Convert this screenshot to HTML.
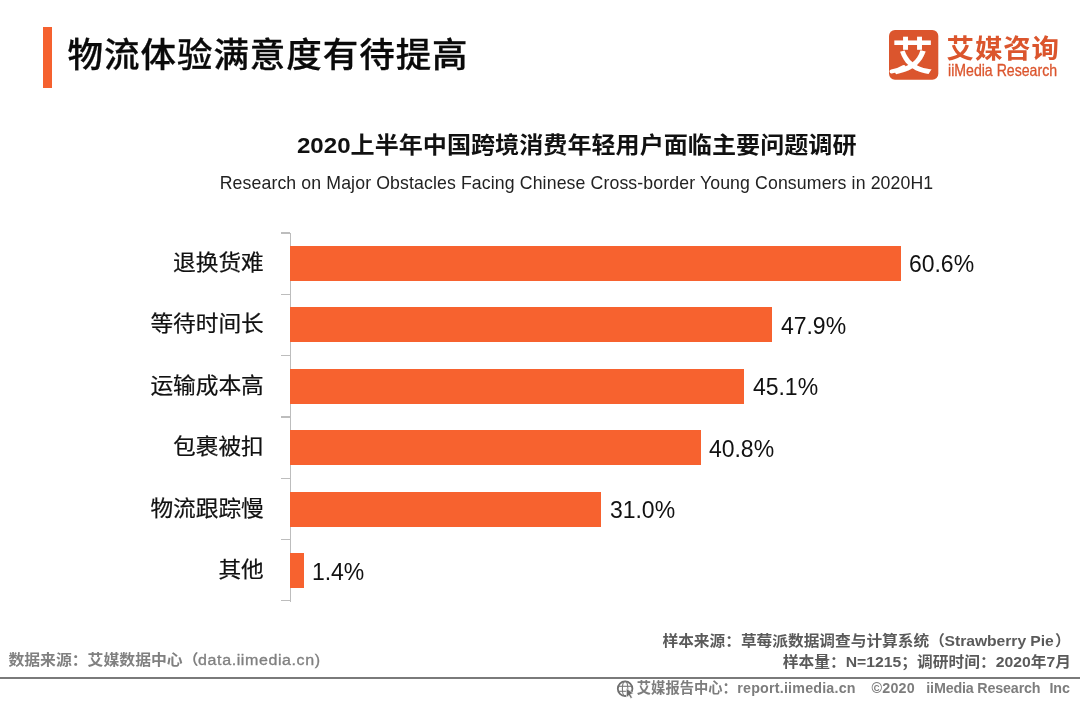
<!DOCTYPE html>
<html lang="zh-CN">
<head>
<meta charset="utf-8">
<title>物流体验满意度有待提高</title>
<style>
html,body{margin:0;padding:0;}
body{width:1080px;height:702px;position:relative;overflow:hidden;background:#fff;
  font-family:"Liberation Sans","Noto Sans CJK SC",sans-serif;color:#111;}
.abs{position:absolute;white-space:nowrap;}
#accent{left:43px;top:26.7px;width:9.3px;height:61.3px;background:#f5612f;}
#title{left:67.6px;top:28.9px;font-size:35.5px;line-height:54px;font-weight:500;color:#0a0a0a;letter-spacing:0.95px;transform:scaleY(0.95);transform-origin:0 25.5px;-webkit-text-stroke:0.3px #0a0a0a;}
#logo{left:889.3px;top:30.3px;width:49.3px;height:49.7px;}
#brand{left:946.6px;top:30.5px;font-size:27.5px;line-height:38px;font-weight:700;color:#db552d;letter-spacing:0.8px;transform:scaleY(0.935);transform-origin:0 17px;}
#brand2{left:948.2px;top:60.2px;font-size:16.2px;line-height:20px;color:#db552d;transform:scaleX(0.872);transform-origin:0 0;-webkit-text-stroke:0.3px #db552d;}
#ctitle{left:0;width:1153.5px;text-align:center;top:127.8px;font-size:24.1px;line-height:34px;font-weight:700;color:#111;transform:scaleY(0.93);transform-origin:50% 28.3px;}
#csub{left:0;width:1153px;text-align:center;top:169.7px;font-size:17.7px;line-height:26px;color:#222;letter-spacing:0.12px;}
.cat{right:816.2px;font-size:22.7px;line-height:34px;color:#111;transform:scaleY(0.965);transform-origin:100% 16.5px;-webkit-text-stroke:0.22px #111;margin-top:-0.3px;}
.bar{left:289.8px;height:35px;background:#f7622f;}
.val{font-size:23px;line-height:34px;color:#111;}
#axis{left:289.5px;top:232.6px;width:1.4px;height:369px;background:#bdbdbd;}
.tick{left:280.5px;width:9.5px;height:1.3px;background:#bdbdbd;}
.footl{font-size:15.85px;line-height:22px;font-weight:700;color:#808080;transform:scaleY(0.92);transform-origin:0 10.8px;}
.footr{font-size:15.7px;line-height:22px;font-weight:700;color:#5a5a5a;transform:scaleY(0.95);transform-origin:0 11px;}
#rule{left:0;top:676.9px;width:1080px;height:2px;background:#7a7a7a;}
.copy{top:678.5px;font-size:14.3px;line-height:20px;color:#7d7d7d;font-weight:700;}
</style>
</head>
<body>
<div class="abs" id="accent"></div>
<div class="abs" id="title">物流体验满意度有待提高</div>

<svg class="abs" id="logo" viewBox="0 0 50 50" preserveAspectRatio="none">
  <rect x="0" y="0" width="50" height="50" rx="6" ry="6" fill="#db552d"/>
  <path d="M2.5 41.8 Q9 40.8 15 37.2" fill="none" stroke="#fff" stroke-width="4" stroke-linecap="round"/>
  <text transform="translate(0.24,3.89) scale(0.95,0.875)" x="25" y="41" text-anchor="middle" font-family="'Liberation Sans','Noto Sans CJK SC',sans-serif" font-size="44" font-weight="700" fill="#fff">艾</text>
</svg>
<div class="abs" id="brand">艾媒咨询</div>
<div class="abs" id="brand2">iiMedia Research</div>

<div class="abs" id="ctitle">2020上半年中国跨境消费年轻用户面临主要问题调研</div>
<div class="abs" id="csub">Research on Major Obstacles Facing Chinese Cross-border Young Consumers in 2020H1</div>

<div class="abs" id="axis"></div>
<div class="abs tick" style="top:232.4px"></div>
<div class="abs tick" style="top:293.8px"></div>
<div class="abs tick" style="top:355.1px"></div>
<div class="abs tick" style="top:416.4px"></div>
<div class="abs tick" style="top:477.6px"></div>
<div class="abs tick" style="top:539.0px"></div>
<div class="abs tick" style="top:600.2px"></div>

<div class="abs cat" style="top:244.9px">退换货难</div>
<div class="abs cat" style="top:306.4px">等待时间长</div>
<div class="abs cat" style="top:367.9px">运输成本高</div>
<div class="abs cat" style="top:429.4px">包裹被扣</div>
<div class="abs cat" style="top:490.9px">物流跟踪慢</div>
<div class="abs cat" style="top:552.4px">其他</div>

<div class="abs bar" style="top:245.7px;width:610.8px"></div>
<div class="abs bar" style="top:307.2px;width:482.4px"></div>
<div class="abs bar" style="top:368.7px;width:454.5px"></div>
<div class="abs bar" style="top:430.2px;width:410.8px"></div>
<div class="abs bar" style="top:491.7px;width:311.7px"></div>
<div class="abs bar" style="top:553.2px;width:13.8px"></div>

<div class="abs val" style="left:908.9px;top:247.2px">60.6%</div>
<div class="abs val" style="left:780.9px;top:308.7px">47.9%</div>
<div class="abs val" style="left:752.9px;top:370.2px">45.1%</div>
<div class="abs val" style="left:708.9px;top:431.7px">40.8%</div>
<div class="abs val" style="left:609.9px;top:493.2px">31.0%</div>
<div class="abs val" style="left:311.9px;top:554.7px">1.4%</div>

<div class="abs footl" id="fl1" style="left:8.4px;top:649.3px">数据来源：艾媒数据中心（</div>
<div class="abs footl" id="fl2" style="left:198.1px;top:649.3px;font-size:16px;font-weight:400;letter-spacing:0.6px;-webkit-text-stroke:0.35px #808080">data.iimedia.cn)</div>

<div class="abs footr" id="fr1" style="left:662.5px;top:629.8px">样本来源：草莓派数据调查与计算系统（</div>
<div class="abs footr" id="fr2" style="left:944.6px;top:629.8px;letter-spacing:-0.05px">Strawberry Pie</div>
<div class="abs footr" id="fr3" style="left:1055px;top:629.8px">）</div>
<div class="abs footr" id="fr4" style="left:782.8px;top:651.2px;font-size:15.74px">样本量：N=1215；调研时间：2020年7月</div>

<div class="abs" id="rule"></div>
<svg class="abs" style="left:616px;top:679.5px;width:19px;height:19px" viewBox="0 0 19 19">
  <circle cx="9.1" cy="8.7" r="7.3" fill="none" stroke="#6e6e6e" stroke-width="1.8"/>
  <ellipse cx="9.1" cy="8.7" rx="2.7" ry="7.3" fill="none" stroke="#777" stroke-width="1.1"/>
  <line x1="2.6" y1="6.3" x2="15.6" y2="6.3" stroke="#777" stroke-width="1.1"/>
  <line x1="2.6" y1="11.3" x2="15.6" y2="11.3" stroke="#777" stroke-width="1.1"/>
  <path d="M10.3 8.3 L17.6 13.5 L14.4 14.3 L16.4 17.6 L14.7 18.5 L12.8 15.2 L10.5 17.4 Z" fill="#6a6a6a" stroke="#fff" stroke-width="0.6"/>
</svg>
<div class="abs copy" id="c1" style="left:636.8px;top:678.1px;font-size:14.3px">艾媒报告中心：</div>
<div class="abs copy" id="c2" style="top:677.6px;left:737.3px;letter-spacing:0.19px">report.iimedia.cn</div>
<div class="abs copy" id="c3" style="top:677.6px;left:871.5px;letter-spacing:0.2px">©2020</div>
<div class="abs copy" id="c4" style="top:677.6px;left:926.3px;letter-spacing:-0.17px">iiMedia Research</div>
<div class="abs copy" id="c5" style="top:677.6px;left:1049.6px;letter-spacing:-0.2px">Inc</div>
</body>
</html>
